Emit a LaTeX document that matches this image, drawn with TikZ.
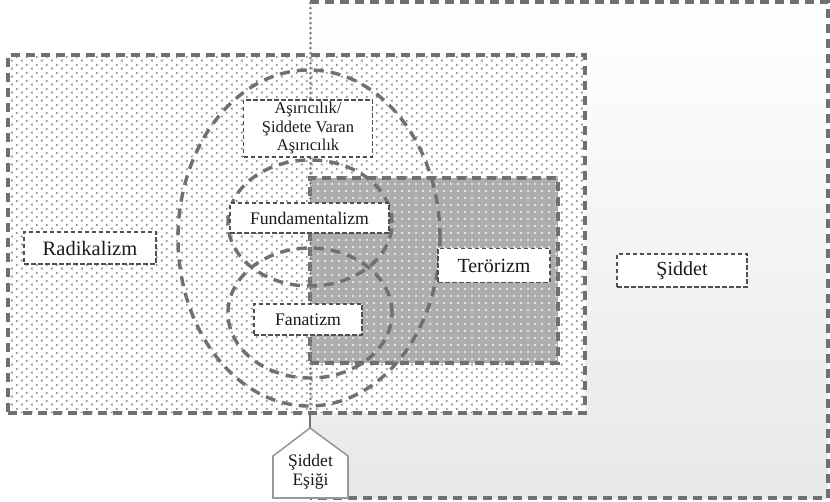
\documentclass[tikz,border=0pt]{standalone}
\usepackage{fontspec}
\setmainfont{Liberation Serif}
\usetikzlibrary{patterns,shapes.geometric}
\pgfdeclarepatternformonly{chev}{\pgfqpoint{0pt}{0pt}}{\pgfqpoint{10pt}{8pt}}{\pgfqpoint{10pt}{8pt}}{%
  \pgfsetlinewidth{0.7pt}%
  \pgfpathmoveto{\pgfqpoint{3pt}{0.6pt}}\pgfpathlineto{\pgfqpoint{1.2pt}{1.6pt}}\pgfpathlineto{\pgfqpoint{3pt}{2.6pt}}%
  \pgfpathmoveto{\pgfqpoint{6.6pt}{4.6pt}}\pgfpathlineto{\pgfqpoint{8.4pt}{5.6pt}}\pgfpathlineto{\pgfqpoint{6.6pt}{6.6pt}}%
  \pgfusepath{stroke}}
\pgfdeclarepatternformonly{wplus}{\pgfqpoint{0pt}{0pt}}{\pgfqpoint{7pt}{7pt}}{\pgfqpoint{7pt}{7pt}}{%
  \pgfsetlinewidth{0.9pt}%
  \pgfpathmoveto{\pgfqpoint{2.3pt}{3.5pt}}\pgfpathlineto{\pgfqpoint{4.7pt}{3.5pt}}%
  \pgfpathmoveto{\pgfqpoint{3.5pt}{2.3pt}}\pgfpathlineto{\pgfqpoint{3.5pt}{4.7pt}}%
  \pgfusepath{stroke}}
\definecolor{lineg}{HTML}{707070}
\definecolor{boxg}{HTML}{505050}
\definecolor{txt}{HTML}{1a1a1a}
\tikzset{
  bigdash/.style={draw=lineg,line width=3.2pt,dash pattern=on 9pt off 6pt},
  dotline/.style={draw=black!50,line width=3pt,line cap=round,dash pattern=on 0.01pt off 5pt},
  ringdash/.style={draw=lineg,line width=3.4pt,dash pattern=on 10pt off 7pt},
  area/.style={rectangle,inner sep=0pt,outer sep=0pt},
  ring/.style={ellipse,inner sep=0pt,outer sep=0pt,ringdash},
  lbl/.style={rectangle,draw=boxg,line width=1.7pt,dash pattern=on 4.5pt off 2.5pt,fill=white,inner sep=0pt,text=txt,align=center},
}
\begin{document}
\begin{tikzpicture}[x=1pt,y=-1pt]
\useasboundingbox (0,0) rectangle (830,502);
% Siddet region
\shade[top color=white,bottom color=black!9] (310,2) rectangle (828,498);
\node[area,minimum width=518pt,minimum height=496pt] (siddetarea) at (569,250) {};
\draw[bigdash] (siddetarea.north west) -- (siddetarea.north east) -- (siddetarea.south east) -- (siddetarea.south west);
% Radikalizm region
\fill[white] (8,55) rectangle (585,413);
\fill[pattern=chev,pattern color=black!50] (8,55) rectangle (585,413);
\node[area,bigdash,minimum width=577pt,minimum height=358pt] (radarea) at (296.5,234) {};
% Terorizm region
\fill[black!32] (310,178) rectangle (558,363);
\fill[pattern=wplus,pattern color=white] (310,178) rectangle (558,363);
\node[area,bigdash,minimum width=248pt,minimum height=185pt] (terarea) at (434,270.5) {};
% dotted threshold line
\coordinate (thtop) at (310,3);
\coordinate (thbot) at (310,413);
\draw[dotline] (thtop) -- (thbot);
% rings
\node[ring,minimum width=262pt,minimum height=336pt] (asiring) at (309,238) {};
\node[ring,minimum width=164pt,minimum height=126pt] (funring) at (310,223) {};
\node[ring,minimum width=164pt,minimum height=130pt] (fanring) at (310,313) {};
% labels
\node[lbl,minimum width=129pt,minimum height=57pt,font=\fontsize{16.5}{18.5}\selectfont] (asi) at (308,128.5) {Aşırıcılık/\\Şiddete Varan\\Aşırıcılık};
\node[lbl,minimum width=159pt,minimum height=30pt,font=\fontsize{17.7}{20}\selectfont] (fun) at (309.5,218) {Fundamentalizm};
\node[lbl,minimum width=108pt,minimum height=31pt,font=\fontsize{17.7}{20}\selectfont] (fan) at (308,319.5) {Fanatizm};
\node[lbl,minimum width=132pt,minimum height=32pt,font=\fontsize{20.5}{23}\selectfont] (rad) at (90,248) {Radikalizm};
\node[lbl,minimum width=112pt,minimum height=34pt,font=\fontsize{20}{23}\selectfont] (ter) at (494,265.5) {Terörizm};
\node[lbl,minimum width=130pt,minimum height=33pt,font=\fontsize{20}{23}\selectfont] (sid) at (682,270.5) {Şiddet};
% threshold pentagon
\coordinate (apex) at (310,428);
\filldraw[fill=white,draw=black!40,line width=1.6pt,line join=miter] (apex) -- (348,456) -- (348,498) -- (273,498) -- (273,456) -- cycle;
\node[inner sep=0pt,text=txt,align=center,font=\fontsize{17.5}{19}\selectfont] (esik) at (310.5,472) {Şiddet\\Eşiği};
\draw[draw=black!55,line width=1.6pt] (thbot) -- (apex);
\end{tikzpicture}
\end{document}
